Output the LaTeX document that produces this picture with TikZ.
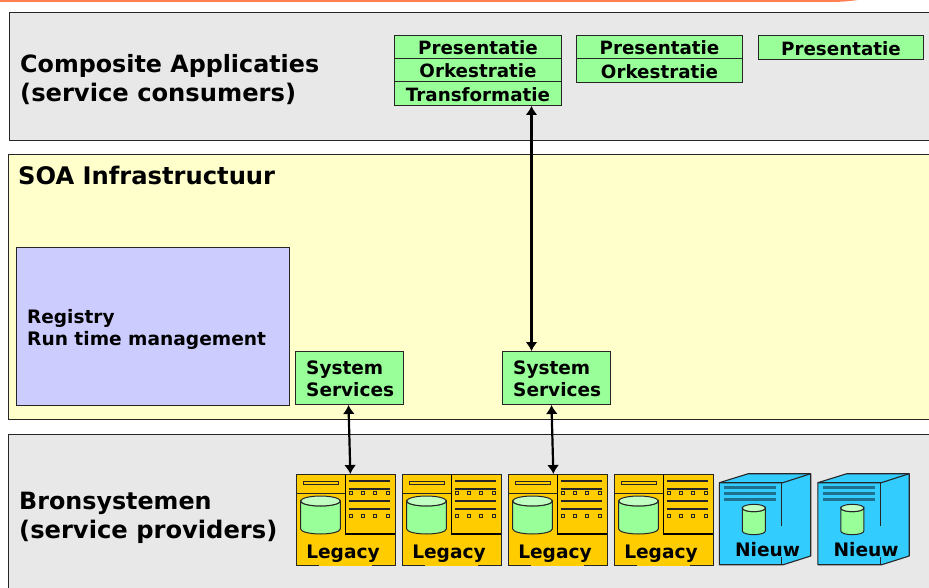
\documentclass[tikz,border=0pt]{standalone}
\usepackage{fontspec}
\setmainfont{DejaVu Sans}
\definecolor{panelgray}{HTML}{E8E8E8}
\definecolor{soayellow}{HTML}{FFFFCC}
\definecolor{lilac}{HTML}{CCCCFF}
\definecolor{soagreen}{HTML}{99FF99}
\definecolor{gold}{HTML}{FFCC00}
\definecolor{skyblue}{HTML}{33CCFF}
\definecolor{barorange}{HTML}{FF7F50}
\definecolor{steel}{HTML}{1F6F8F}
\usetikzlibrary{arrows.meta}
\tikzset{
  panel/.style={draw=black!85,line width=1pt,anchor=north west,inner sep=0pt},
  heading/.style={anchor=base west,inner sep=0pt,font=\fontsize{23.8}{24}\selectfont\bfseries},
  headingw/.style={heading,font=\fontsize{24.2}{24}\selectfont\bfseries},
  midtext/.style={anchor=base west,inner sep=0pt,font=\fontsize{18.5}{18.5}\selectfont\bfseries},
  layer/.style={draw=black!85,fill=soagreen,line width=1pt,anchor=north west,inner sep=0pt,
    font=\fontsize{18.3}{18.5}\selectfont\bfseries,text height=16pt,text depth=0pt},
  sysbox/.style={draw=black!85,fill=soagreen,line width=1pt,anchor=north west,inner sep=0pt,
    minimum width=108pt,minimum height=53pt},
  iconbody/.style={line width=1pt,draw=black!85,anchor=north west,inner sep=0pt},
  iconlabel/.style={inner sep=0pt,font=\fontsize{18.6}{19.5}\selectfont\bfseries},
  link/.style={{Latex[length=9pt,width=12pt]}-{Latex[length=9pt,width=12pt]},line width=2.2pt,black},
}
\newcommand{\cyl}[5]{% x left, x right, y top centre, y bottom centre, ry
  \filldraw[fill=soagreen,draw=black!85,line width=1pt]
    (#1,#3) arc[start angle=180,end angle=360,x radius={(#2-#1)/2},y radius=-#5] -- (#2,#4)
    arc[start angle=0,end angle=-180,x radius={(#2-#1)/2},y radius=-#5] -- cycle;
  \filldraw[fill=soagreen!60!white,draw=black!85,line width=1pt]
    ({(#1+#2)/2},#3) ellipse[x radius={(#2-#1)/2},y radius=#5];
}
\newcommand{\legacyicon}[2]{%
  \begin{scope}[shift={(#2,474)}]
    \node[iconbody,fill=gold,minimum width=98.7pt,minimum height=91pt] (#1) at (0,0) {};
    \draw[gold,line width=1.4pt] (22.5,91) -- (76,91);
    \draw[black!85,line width=1pt] (0,19) -- (49.7,19);
    \draw[black,line width=1.2pt] (49.7,0) -- (49.7,60) -- (98.7,60);
    \draw[black!85,line width=1pt,fill=gold] (7.7,7.3) rectangle (42,10.7);
    \cyl{4.7}{44.3}{27}{55}{5}
    \foreach \yy in {6.7,14.7,27,35.3}
      \draw[black!85,line width=2pt] (52.7,\yy) -- (94,\yy);
    \foreach \yy in {19.3,42.3}
      \foreach \xx in {54.7,67.3,79.3,92}
        \draw[black!85,line width=1pt] (\xx-1.5,\yy-1.5) rectangle (\xx+1.5,\yy+1.5);
    \node[iconlabel] (#1t) at (47,80) {Legacy};
  \end{scope}
}
\newcommand{\nieuwicon}[2]{%
  \begin{scope}[shift={(#2,473.7)}]
    \filldraw[fill=skyblue,draw=black!85,line width=1.1pt,line join=round]
      (0,9) -- (29,0) -- (91.4,0) -- (91.4,82.3) -- (64,91) -- (0,91) -- cycle;
    \draw[black!85,line width=1.1pt] (0,9) -- (63.5,9) -- (91.4,0);
    \draw[black!85,line width=1.1pt] (62.3,9) -- (62.3,52) (62.3,83) -- (62.3,91);
    \foreach \yy in {13.7,19.7,26}
      \draw[steel,line width=2.6pt] (4.7,\yy) -- (56.7,\yy);
    \cyl{23}{46}{34.3}{57.3}{3.7}
    \node[iconlabel] (#1t) at (48.3,75.5) {Nieuw};
  \end{scope}
}
\begin{document}
\begin{tikzpicture}[x=1pt,y=-1pt]
\useasboundingbox (0,0) rectangle (929,588);
\fill[white] (0,0) rectangle (929,588);
% top bar
\fill[barorange] (0,0) -- (858,0) .. controls (850,1) and (842,2) .. (830,2) -- (0,2) -- cycle;
% panels
\node[panel,fill=panelgray,minimum width=924pt,minimum height=128pt] (top) at (9,12) {};
\node[panel,fill=soayellow,minimum width=925pt,minimum height=265pt] (mid) at (8,154) {};
\node[panel,fill=panelgray,minimum width=925pt,minimum height=165pt] (bot) at (8,434) {};
\node[panel,fill=lilac,minimum width=273pt,minimum height=158pt] (reg) at (16,247) {};
% headings
\node[heading] (h1) at (20,72.5) {Composite Applicaties};
\node[headingw] (h2) at (20,101.5) {(service consumers)};
\node[headingw] (h3) at (18,184.5) {SOA Infrastructuur};
\node[heading] (h4) at (19,509) {Bronsystemen};
\node[headingw] (h5) at (19,538) {(service providers)};
\node[midtext] (r1) at (27,323) {Registry};
\node[midtext,font=\fontsize{18.6}{18.5}\selectfont\bfseries] (r2) at (27,345) {Run time management};
% layers
\node[layer,minimum width=167pt,minimum height=23pt] (p1) at (394,35) {Presentatie};
\node[layer,minimum width=167pt,minimum height=23pt] (o1) at (394,58) {Orkestratie};
\node[layer,minimum width=167pt,minimum height=24pt] (trans) at (394,81) {Transformatie};
\node[layer,minimum width=166pt,minimum height=23pt] (p2) at (576,35) {Presentatie};
\node[layer,minimum width=166pt,minimum height=24pt] (o2) at (576,58) {Orkestratie};
\node[layer,minimum width=165pt,minimum height=24pt] (p3) at (758,35) {Presentatie};
% system services
\node[sysbox] (sys1) at (295,351) {};
\node[sysbox] (sys2) at (502,351) {};
\node[midtext] (s1a) at (306,374) {System};
\node[midtext] (s1b) at (306,396) {Services};
\node[midtext] (s2a) at (513,374) {System};
\node[midtext] (s2b) at (513,396) {Services};
% icons
\legacyicon{leg1}{296}
\legacyicon{leg2}{402}
\legacyicon{leg3}{508}
\legacyicon{leg4}{614}
\nieuwicon{nw1}{719.3}
\nieuwicon{nw2}{817.8}
% connectors
\draw[link] ([xshift=53.5pt]trans.south) -- ([xshift=-25pt]sys2.north);
\draw[link] ([xshift=-1pt]sys1.south) -- ([xshift=4.5pt]leg1.north);
\draw[link] ([xshift=-5pt]sys2.south) -- ([xshift=-4.5pt]leg3.north);
\end{tikzpicture}
\end{document}
